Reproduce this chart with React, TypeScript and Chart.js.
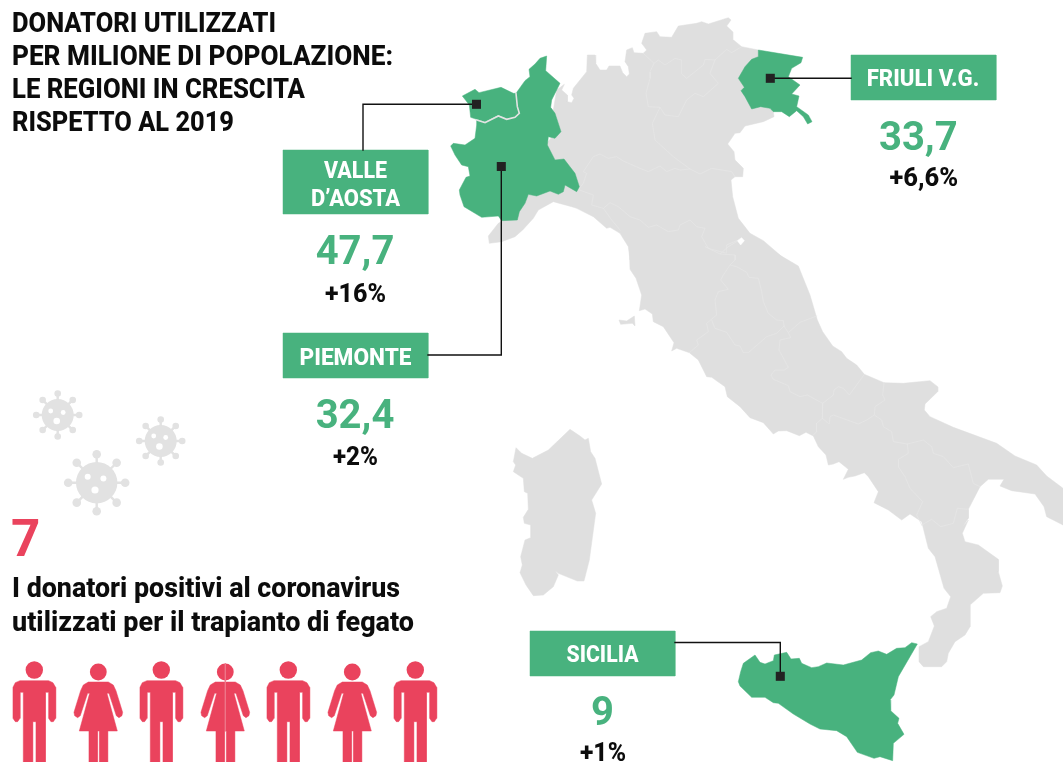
import React, { useEffect, useRef } from "react";
import { Chart, registerables } from "chart.js";

Chart.register(...registerables);

// ---------- content ----------
const titleLines = ["DONATORI UTILIZZATI", "PER MILIONE DI POPOLAZIONE:", "LE REGIONI IN CRESCITA", "RISPETTO AL 2019"];
const positiveCount = "7";
const positiveLines = ["I donatori positivi al coronavirus", "utilizzati per il trapianto di fegato"];
const regionValues = ["47,7", "32,4", "33,7", "9"];
const regionGrowth = ["+16%", "+2%", "+6,6%", "+1%"];

const GREEN = "#48b27e";
const GRAY = "#dfdfdf";
const RED = "#ea435d";
const INK = "#222222";

const north = [
  [403,253],[395,270],[412,285],[412,305],[425,308],[432,295],[425,285],[430,265],[470,215],[472,165],[495,165],[497,190],[510,210],[530,210],[537,198],[570,198],[578,218],[590,230],[598,222],[595,200],[585,185],[590,150],[607,143],[612,158],[640,160],[650,150],[635,130],[645,100],[680,95],[690,110],[725,112],[745,78],[800,70],[815,65],[835,72],[895,53],[903,60],[890,78],[908,95],[908,118],[935,140],[985,150],[1000,170],[1000,300],[1030,335],[1032,350],[1000,365],[945,378],[930,398],[915,400],[893,432],[912,455],[915,480],[940,505],[938,530],[915,530],[903,540],[908,590],[925,655],[960,700],[1000,722],[1065,778],
];
const adriatic = [
  [530,40],[595,78],[630,165],[652,240],[668,275],[698,318],[725,335],[740,355],[770,375],[793,403],[852,428],[910,430],[990,422],[1013,440],[1013,455],[975,492],[973,510],[990,530],[1060,562],[1190,610],[1245,648],[1310,675],[1340,708],[1389,745],[1389,855],[1340,830],[1332,800],[1305,762],[1235,752],[1200,738],[1212,718],[1165,718],[1140,740],[1105,808],[1105,835],[1088,860],
];
const calabria = [
  [745,60],[727,100],[735,125],[775,135],[835,178],[835,215],[847,258],[840,278],[790,280],[750,315],[750,380],[735,405],[705,425],[685,460],[680,485],[665,500],[610,500],[597,485],[597,440],[625,425],[643,378],[632,350],[650,335],[680,325],[692,290],[672,265],[645,170],[625,145],[605,65],[570,42],[545,60],[505,30],[462,8],
];
const tyrrhenian = [
  [835,755],[805,710],[793,698],[765,708],[745,712],[730,718],[745,688],[717,665],[700,672],[685,675],[678,645],[655,620],[640,588],[618,577],[598,587],[560,572],[535,573],[520,582],[490,548],[450,533],[420,500],[382,470],[375,440],[335,412],[320,410],[295,360],[268,338],[230,325],[215,333],[222,308],[190,260],[160,245],[157,222],[135,207],[118,212],[125,165],[108,115],[90,88],[88,25],
];
const ligurian = [
  [600,780],[595,740],[570,700],[540,682],[530,685],[490,650],[440,625],[425,620],[370,605],[325,630],[310,655],[278,690],[255,710],[215,725],[178,730],[175,708],[205,670],[260,640],[300,560],[350,430],[375,400],[370,330],[380,270],
];
const sardinia = [
  [78,113],[95,130],[127,145],[175,120],[215,82],[240,58],[270,78],[285,90],[295,85],[302,125],[315,145],[335,222],[305,270],[317,310],[298,450],[282,513],[262,513],[205,490],[195,482],[205,495],[190,530],[160,555],[130,557],[108,525],[90,488],[97,465],[92,440],[105,390],[122,383],[122,345],[103,340],[100,322],[115,298],[113,250],[103,245],[100,205],[70,185],[77,165],[70,155],
];
const elba = [[57,240],[80,243],[103,228],[105,258],[97,250],[62,253]];
const sanMarinoGap = [[922,722],[935,713],[943,722],[932,735]];
const piemonte = [
  [330,175],[350,168],[347,212],[390,250],[365,300],[362,322],[375,340],[393,395],[375,415],[355,410],[352,435],[375,480],[402,477],[435,520],[448,560],[440,575],[405,555],[400,575],[385,583],[360,573],[320,588],[295,583],[285,610],[268,635],[262,660],[215,662],[205,648],[155,652],[102,620],[90,585],[88,570],[108,532],[120,528],[115,500],[95,495],[75,465],[62,438],[70,430],[105,435],[135,415],[140,375],[140,360],[165,368],[205,348],[230,358],[255,352],[268,340],[262,320],[258,280],[285,242],[300,230],[297,208],[315,192],
];
const valleAosta = [[97,288],[135,268],[147,278],[213,262],[250,280],[258,280],[262,320],[266,340],[255,352],[230,356],[205,346],[165,365],[140,358],[122,352],[118,315]];
const valleEdge = [[258,280],[262,320],[268,340],[255,352],[230,358],[205,348],[165,368],[140,360]];
const friuli = [
  [985,150],[1045,160],[1118,172],[1113,188],[1085,205],[1075,230],[1110,255],[1085,282],[1107,288],[1100,320],[1135,345],[1146,365],[1133,372],[1120,350],[1100,332],[1078,350],[1055,335],[1030,335],[1020,325],[992,320],[965,327],[945,290],[933,272],[943,262],[925,235],[945,200],[965,178],[985,170],
];
const sicilia = [
  [55,545],[62,515],[70,490],[105,465],[120,487],[135,492],[160,482],[163,465],[200,457],[213,477],[238,475],[245,490],[275,503],[295,500],[320,489],[370,495],[425,480],[452,458],[475,453],[500,463],[530,445],[555,443],[575,428],[592,432],[535,530],[522,585],[510,600],[512,632],[537,655],[533,670],[552,703],[520,730],[518,782],[480,770],[462,775],[412,757],[380,710],[350,692],[300,687],[270,672],[220,642],[175,610],[160,608],[135,592],[95,592],[60,558],
];
// internal borders, top crop
const bordersNorth = [
  [[640,160],[672,190],[660,215],[660,235],[648,280],[655,320],[690,322],[705,345],[745,350],[770,300],[795,280],[820,290],[865,250],[840,220],[855,180],[825,178],[820,195],[770,235],[755,222],[755,180],[735,175],[705,195],[685,180],[672,190]],
  [[855,180],[890,148],[905,158],[935,140]],
  [[690,322],[667,370],[675,420],[730,470],[780,507],[750,510],[735,505],[710,515],[690,498],[655,515],[630,505],[580,483],[560,470],[535,475],[510,462],[490,470],[460,515],[470,520],[460,550],[448,565]],
  [[780,507],[810,522],[845,505],[905,515],[915,530]],
  [[448,570],[490,585],[485,615],[520,625],[545,660],[570,690]],
  [[520,625],[540,608],[565,620],[600,650],[630,660],[655,682],[680,675],[715,695],[745,690],[750,675],[780,660],[800,680],[825,685],[815,710],[835,745],[890,760],[890,735],[920,722]],
];
// internal borders, middle crop
const bordersSouth = [
  [[315,20],[360,42],[385,20],[410,5]],
  [[360,42],[405,45],[405,60],[390,75],[370,105],[362,120],[385,148],[355,155],[345,180],[350,225],[320,250],[325,275],[290,300],[295,315],[268,338]],
  [[390,75],[410,80],[440,97],[447,112],[475,115],[485,155],[490,185],[505,220],[530,240],[550,242],[552,258]],
  [[335,240],[345,265],[380,277],[405,315],[420,318],[430,338],[445,338],[500,290],[530,280],[552,258]],
  [[552,258],[565,278],[600,247],[650,228]],
  [[565,278],[572,293],[540,300],[537,330],[565,382],[553,390],[525,390],[513,405],[520,418],[565,437],[570,455],[600,470],[622,465],[668,490]],
  [[668,490],[700,465],[702,450],[715,440],[730,445],[748,465],[793,403]],
  [[852,428],[848,465],[855,480],[825,500],[823,525],[800,540],[775,552],[700,525],[690,530],[688,550]],
  [[668,490],[667,535],[650,550],[650,575],[640,585]],
  [[667,535],[685,550]],
  [[823,525],[845,540],[850,560],[875,575],[880,605],[922,612]],
  [[922,612],[970,600],[995,620],[1000,640],[1030,650],[1060,683],[1105,672],[1120,730],[1140,740]],
  [[922,612],[925,640],[895,658],[895,680],[915,710],[930,745],[968,785],[950,825],[965,855]],
  [[965,855],[995,838],[1022,860],[1060,850],[1072,805],[1105,808]],
];

// pictograms (crop units relative to each figure's centre line, crop y from 650)
const manBody = [[-43,92],[43,92],[56,98],[64,112],[64,205],[57,215],[50,215],[43,205],[43,127],[33,127],[33,336],[5,336],[5,215],[-5,215],[-5,336],[-33,336],[-33,127],[-43,127],[-43,205],[-50,215],[-57,215],[-64,205],[-64,112],[-57,98]];
const womanBody = [[-30,96],[30,96],[45,105],[53,122],[73,187],[71,197],[62,203],[54,197],[32,130],[26,130],[57,243],[28,243],[28,336],[3,336],[3,243],[-3,243],[-3,336],[-28,336],[-28,243],[-57,243],[-26,130],[-32,130],[-54,197],[-62,203],[-71,197],[-73,187],[-53,122],[-45,105]];
const manCentres = [34.3, 161.3, 288.3, 415.3];
const womanCentres = [98.3, 225.3, 352.3];
const viruses = [
  { x: 57.7, y: 415, r: 16, tip: 21.5, dot: 3.3, holes: [[-7, -4, 2.4], [5.5, -2.5, 2.4], [-1, 6, 3.3]] },
  { x: 160.7, y: 441, r: 16, tip: 21.5, dot: 3.3, holes: [[-7, -5, 2.4], [5, -3.5, 2.4], [-1.3, 5.5, 3.3]] },
  { x: 96.7, y: 482.7, r: 20.7, tip: 28.5, dot: 4.3, holes: [[-9, -6, 3], [6.7, -4.3, 3], [-1.7, 7.3, 3.6]] },
];

const crop = (ox: number, oy: number, list: number[][]) => list.map(([a, b]) => ({ x: ox + a / 3, y: oy + b / 3 }));

const connectors = [
  [[476.5, 104.3], [363, 104.3], [363, 150]],
  [[501.3, 166.5], [501.3, 355], [428, 355]],
  [[770.3, 78.3], [851, 78.3]],
  [[780.3, 676.3], [780.3, 642.5], [675, 642.5]],
];
const labelBoxes = [
  [283, 150, 428, 214],
  [283, 333, 428, 378],
  [851, 55, 996, 100],
  [530, 631, 675, 676],
];

const LABEL_FONT = "Roboto";
const HEAVY = "800";
const texts: { t: string; x: number; y: number; f: string; c: string; a?: CanvasTextAlign; w?: number }[] = [
  ...titleLines.map((t, i) => ({ t, x: 12, y: [31.7, 65, 98, 130.5][i], f: `${HEAVY} 27px ${LABEL_FONT}`, c: "#0c0c0c", a: "left" as CanvasTextAlign, w: [264, 381, 293, 222][i] })),
  { t: positiveCount, x: 11, y: 555.7, f: `700 51px ${LABEL_FONT}`, c: RED, a: "left" },
  { t: positiveLines[0], x: 12, y: 597.3, f: `${HEAVY} 27px ${LABEL_FONT}`, c: "#0c0c0c", a: "left", w: 388 },
  { t: positiveLines[1], x: 12, y: 630.5, f: `${HEAVY} 27px ${LABEL_FONT}`, c: "#0c0c0c", a: "left", w: 402 },
  { t: "VALLE", x: 355.5, y: 178.3, f: `${HEAVY} 23.5px ${LABEL_FONT}`, c: "#ffffff", w: 63 },
  { t: "D’AOSTA", x: 355.5, y: 205.7, f: `${HEAVY} 23.5px ${LABEL_FONT}`, c: "#ffffff", w: 89 },
  { t: "PIEMONTE", x: 355.5, y: 365, f: `${HEAVY} 23.5px ${LABEL_FONT}`, c: "#ffffff", w: 112 },
  { t: "FRIULI V.G.", x: 923, y: 86, f: `${HEAVY} 23.5px ${LABEL_FONT}`, c: "#ffffff", w: 112.6 },
  { t: "SICILIA", x: 602.5, y: 662, f: `${HEAVY} 23.5px ${LABEL_FONT}`, c: "#ffffff", w: 72 },
  { t: regionValues[0], x: 355, y: 264, f: `700 40px ${LABEL_FONT}`, c: GREEN },
  { t: regionGrowth[0], x: 355.5, y: 302.3, f: `${HEAVY} 25.5px ${LABEL_FONT}`, c: "#0c0c0c", w: 61 },
  { t: regionValues[1], x: 355, y: 428, f: `700 40px ${LABEL_FONT}`, c: GREEN },
  { t: regionGrowth[1], x: 355.5, y: 465, f: `${HEAVY} 25.5px ${LABEL_FONT}`, c: "#0c0c0c", w: 45 },
  { t: regionValues[2], x: 918.3, y: 150, f: `700 40px ${LABEL_FONT}`, c: GREEN },
  { t: regionGrowth[2], x: 923.8, y: 185.7, f: `${HEAVY} 25.5px ${LABEL_FONT}`, c: "#0c0c0c", w: 69 },
  { t: regionValues[3], x: 602.5, y: 725, f: `700 40px ${LABEL_FONT}`, c: GREEN },
  { t: regionGrowth[3], x: 603, y: 761, f: `${HEAVY} 25.5px ${LABEL_FONT}`, c: "#0c0c0c", w: 46 },
];

const textPlugin = {
  id: "texts",
  afterDatasetsDraw(chart: any) {
    const { ctx } = chart;
    ctx.save();
    ctx.textBaseline = "alphabetic";
    for (const item of texts) {
      ctx.font = item.f;
      ctx.fillStyle = item.c;
      ctx.textAlign = item.a ?? "center";
      if (item.w) ctx.fillText(item.t, item.x, item.y, item.w);
      else ctx.fillText(item.t, item.x, item.y);
    }
    ctx.restore();
  },
};

function poly(data: { x: number; y: number }[], color: string) {
  return { type: "scatter", data: [...data, data[0]], showLine: true, fill: "shape", backgroundColor: color, borderColor: color, borderWidth: 0.5, pointRadius: 0, tension: 0, clip: false };
}
function stroke(data: { x: number; y: number }[], color: string, width: number) {
  return { type: "scatter", data, showLine: true, fill: false, borderColor: color, borderWidth: width, pointRadius: 0, tension: 0, clip: false, borderCapStyle: "square" };
}
function dots(data: { x: number; y: number; r: number }[], color: string, style = "circle") {
  return { type: "scatter", data, showLine: false, backgroundColor: color, borderWidth: 0, pointStyle: style, pointRadius: data.map((d) => d.r), clip: false };
}

function buildDatasets() {
  const ds: any[] = [];
  const mainland = [
    ...crop(430, 0, north),
    ...crop(600, 240, adriatic),
    ...crop(720, 500, calabria),
    ...crop(600, 240, tyrrhenian),
    ...crop(430, 0, ligurian),
  ];
  ds.push(poly(mainland, GRAY));
  ds.push(poly(crop(490, 410, sardinia), GRAY));
  ds.push(poly(crop(600, 240, elba), GRAY));
  ds.push(poly(crop(430, 0, sanMarinoGap), "#ffffff"));
  for (const b of bordersNorth) ds.push(stroke(crop(430, 0, b), "#e6e6e6", 0.7));
  for (const b of bordersSouth) ds.push(stroke(crop(600, 240, b), "#e6e6e6", 0.7));
  ds.push(poly(crop(430, 0, piemonte), GREEN));
  ds.push(poly(crop(430, 0, valleAosta), GREEN));
  ds.push(stroke(crop(430, 0, valleEdge), "#e3e3e3", 1.6));
  ds.push(poly(crop(430, 0, friuli), GREEN));
  ds.push(poly(crop(720, 500, sicilia), GREEN));
  for (const [x0, y0, x1, y1] of labelBoxes) {
    ds.push(poly([{ x: x0, y: y0 }, { x: x1, y: y0 }, { x: x1, y: y1 }, { x: x0, y: y1 }], GREEN));
  }
  for (const c of connectors) ds.push(stroke(c.map(([x, y]) => ({ x, y })), "#111111", 1.4));
  ds.push(dots(connectors.map((c) => ({ x: c[0][0], y: c[0][1], r: 6.4 })), INK, "rect"));

  // viruses
  const dirs = [[0, -1], [0.7, -0.7], [1, 0], [0.7, 0.7], [0, 1], [-0.7, 0.7], [-1, 0], [-0.7, -0.7]];
  for (const v of viruses) {
    const star: { x: number; y: number }[] = [];
    for (const [dx, dy] of dirs) {
      star.push({ x: v.x, y: v.y }, { x: v.x + dx * v.tip, y: v.y + dy * v.tip });
    }
    ds.push(stroke(star, "#e2e2e2", 2.4));
    ds.push(dots([{ x: v.x, y: v.y, r: v.r }, ...dirs.map(([dx, dy]) => ({ x: v.x + dx * v.tip, y: v.y + dy * v.tip, r: v.dot }))], "#e2e2e2"));
    ds.push(dots(v.holes.map(([dx, dy, r]) => ({ x: v.x + dx, y: v.y + dy, r })), "#ffffff"));
  }

  // people
  for (const cx of manCentres) {
    ds.push(poly(crop(cx, 650, manBody), RED));
  }
  for (const cx of womanCentres) {
    ds.push(poly(crop(cx, 650, womanBody), RED));
  }
  ds.push(dots([
    ...manCentres.map((x) => ({ x, y: 670, r: 8.7 })),
    ...womanCentres.map((x) => ({ x, y: 672, r: 8.4 })),
  ], RED));
  ds.push(stroke([{ x: womanCentres[1], y: 663.5 }, { x: womanCentres[1], y: 731 }], "#f0798c", 0.8));

  ds.forEach((d, i) => (d.order = -i));
  return ds;
}

export default function App() {
  const ref = useRef<HTMLCanvasElement | null>(null);
  useEffect(() => {
    document.body.style.margin = "0";
    document.body.style.background = "#ffffff";
    const chart = new Chart(ref.current as HTMLCanvasElement, {
      type: "scatter",
      data: { datasets: buildDatasets() },
      options: {
        animation: false,
        responsive: false,
        devicePixelRatio: 1,
        layout: { padding: 0, autoPadding: false },
        events: [],
        scales: {
          x: { type: "linear", min: 0, max: 1063, display: false },
          y: { type: "linear", min: 0, max: 762, reverse: true, display: false },
        },
        plugins: { legend: { display: false }, tooltip: { enabled: false } },
      },
      plugins: [textPlugin],
    } as any);
    return () => chart.destroy();
  }, []);
  return <canvas ref={ref} width={1063} height={762} style={{ display: "block" }} />;
}
